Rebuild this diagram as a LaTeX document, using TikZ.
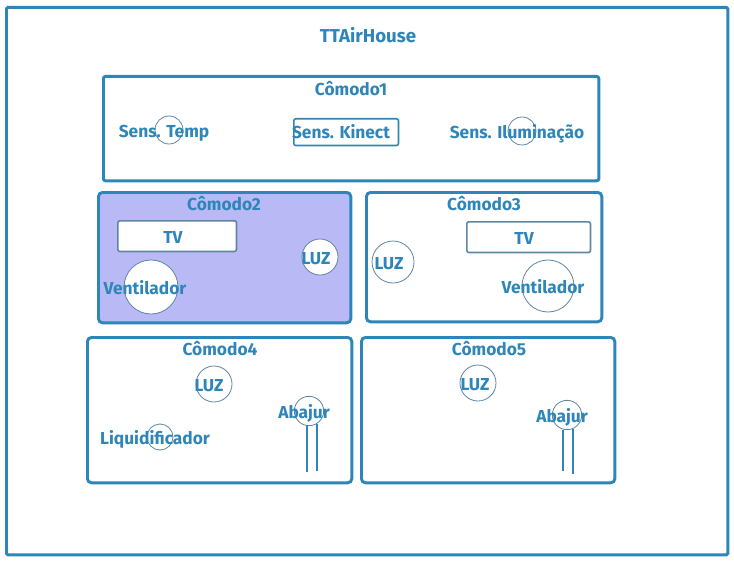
\documentclass[tikz,border=0pt]{standalone}
\usepackage{fontspec}
\setmainfont{Fira Sans}
\definecolor{sketchblue}{HTML}{2E86B8}
\definecolor{sketchgrey}{HTML}{5F86A3}
\definecolor{roomfill}{HTML}{B9B9F5}
\tikzset{
  room/.style={rectangle,draw=sketchblue,line width=2.2pt,rounded corners=3pt,anchor=north west,inner sep=0pt},
  device/.style={circle,draw=sketchgrey,fill=white,line width=0.6pt,inner sep=0pt},
  screen/.style={rectangle,draw=sketchgrey,fill=white,line width=1.2pt,rounded corners=1.5pt,anchor=north west,inner sep=0pt},
  label/.style={text=sketchblue,font=\fontsize{13}{15}\selectfont\bfseries,inner sep=0pt,text height=12.5pt,text depth=3pt},
  stem/.style={draw=sketchblue,line width=1.8pt}
}
\begin{document}
\begin{tikzpicture}[x=0.75pt,y=-0.75pt]
\useasboundingbox (0,0) rectangle (734,563);
\path (5,6) node[room,rounded corners=1pt,minimum width=541pt,minimum height=410.5pt] (house) {};
\path (368,36) node[label,font=\fontsize{14}{16}\selectfont\bfseries] (houselabel) {TTAirHouse};

% rooms
\path (102,75) node[room,rounded corners=1.5pt,minimum width=371.5pt,minimum height=78.25pt] (room1) {};
\path (97,191) node[room,fill=roomfill,minimum width=189.25pt,minimum height=97.75pt] (room2) {};
\path (365,191) node[room,minimum width=176.5pt,minimum height=97pt] (room3) {};
\path (86,336) node[room,minimum width=198.25pt,minimum height=109pt] (room4) {};
\path (360,336) node[room,minimum width=190pt,minimum height=109pt] (room5) {};

% room 1
\path (351,89) node[label] (room1label) {Cômodo1};
\path (169,130) node[device,minimum size=21pt] (temp) {};
\path (164,131) node[label] (templabel) {Sens. Temp};
\path (293,118) node[screen,draw=sketchblue,minimum width=78.5pt,minimum height=20pt] (kinect) {};
\path (341,132) node[label] (kinectlabel) {Sens. Kinect};
\path (522,131) node[device,minimum size=21pt] (ilum) {};
\path (517,132) node[label] (ilumlabel) {Sens. Iluminação};

% room 2
\path (224,204) node[label] (room2label) {Cômodo2};
\path (117,220) node[screen,minimum width=89pt,minimum height=23pt] (tv2) {};
\path (173,237) node[label] (tv2label) {TV};
\path (320,257) node[device,minimum size=27pt] (luz2) {};
\path (316,258) node[label] (luz2label) {LUZ};
\path (151,287) node[device,minimum size=40.5pt] (vent2) {};
\path (145,288) node[label] (vent2label) {Ventilador};

% room 3
\path (484,204) node[label] (room3label) {Cômodo3};
\path (466,221) node[screen,minimum width=92.75pt,minimum height=23pt] (tv3) {};
\path (524,238) node[label] (tv3label) {TV};
\path (393,262) node[device,minimum size=31.5pt] (luz3) {};
\path (389,263) node[label] (luz3label) {LUZ};
\path (548,286) node[device,minimum size=39pt] (vent3) {};
\path (543,287) node[label] (vent3label) {Ventilador};

% room 4
\path (220,349) node[label] (room4label) {Cômodo4};
\path (214,384) node[device,minimum size=27pt] (luz4) {};
\path (209,385) node[label] (luz4label) {LUZ};
\path (160,437) node[device,minimum size=19.5pt] (liq) {};
\path (155,438) node[label] (liqlabel) {Liquidificador};
\path (309,411) node[device,minimum size=22pt] (abajur4) {};
\path (304,412) node[label] (abajur4label) {Abajur};
\coordinate (foot4a) at (abajur4.-98 |- 0,472);
\coordinate (foot4b) at (abajur4.-58 |- 0,471);
\draw[stem] (abajur4.-98) -- (foot4a);
\draw[stem] (abajur4.-58) -- (foot4b);

% room 5
\path (489,349) node[label] (room5label) {Cômodo5};
\path (478,383) node[device,minimum size=27pt] (luz5) {};
\path (475,384) node[label] (luz5label) {LUZ};
\path (567,415) node[device,minimum size=22pt] (abajur5) {};
\path (562,416) node[label] (abajur5label) {Abajur};
\coordinate (foot5a) at (abajur5.-105 |- 0,471);
\coordinate (foot5b) at (abajur5.-66 |- 0,474);
\draw[stem] (abajur5.-105) -- (foot5a);
\draw[stem] (abajur5.-66) -- (foot5b);
\end{tikzpicture}
\end{document}
